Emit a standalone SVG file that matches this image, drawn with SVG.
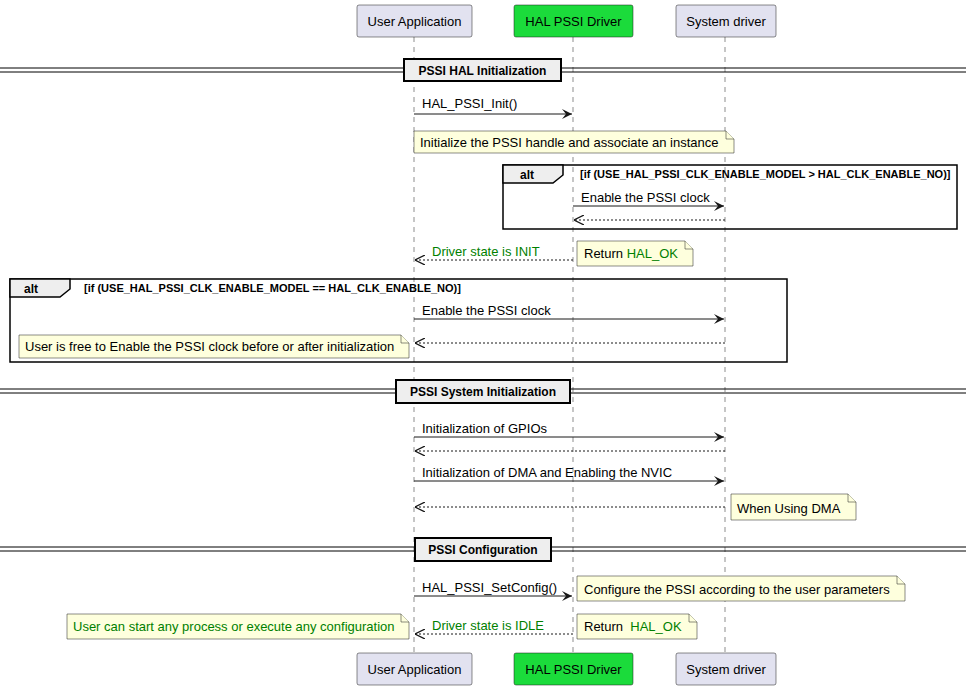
<svg xmlns="http://www.w3.org/2000/svg" width="971" height="688" viewBox="0 0 971 688">
<defs>
<marker id="ah" viewBox="0 0 10 10" refX="10" refY="5" markerWidth="10" markerHeight="10" markerUnits="userSpaceOnUse" orient="auto"><path d="M0,0 L10,5 L0,10 L4,5 Z" fill="#181818"/></marker>
<marker id="ao" viewBox="0 0 10 10" refX="10" refY="5" markerWidth="10" markerHeight="10" markerUnits="userSpaceOnUse" orient="auto"><path d="M0,0 L10,5 L0,10" fill="none" stroke="#181818" stroke-width="1.3"/></marker>
</defs>
<style>
text{font-family:"Liberation Sans",Arial,sans-serif;font-size:13px;fill:#000}
.p{fill:#E2E2F0;stroke:#181818;stroke-width:0.5}
.ph{fill:#1BDB3B;stroke:#181818;stroke-width:0.5}
.life{stroke:#181818;stroke-width:0.5;stroke-dasharray:5,5}
.m{stroke:#181818;stroke-width:1;fill:none;marker-end:url(#ah)}
.r{stroke:#181818;stroke-width:1;fill:none;stroke-dasharray:2,2;marker-end:url(#ao)}
.note{fill:#FEFFDD;stroke:#181818;stroke-width:0.5}
.g{fill:#008000}
.div{stroke:#000;stroke-width:1}
.dbox{fill:#EEEEEE;stroke:#000;stroke-width:2}
.b{font-weight:bold;font-size:12px}
.c{font-weight:bold;font-size:11px}
.frame{fill:none;stroke:#000;stroke-width:1.5}
.tab{fill:#EEEEEE;stroke:#000;stroke-width:1.5}
</style>
<g id="lifelines">
<line class="life" x1="414" y1="37" x2="414" y2="653"/>
<line class="life" x1="573" y1="37" x2="573" y2="653"/>
<line class="life" x1="725" y1="37" x2="725" y2="653"/>
</g>
<g id="user-top"><rect class="p" x="357" y="5" width="115" height="32" rx="2"/><text x="414.5" y="26" text-anchor="middle">User Application</text></g>
<g id="hal-top"><rect class="ph" x="514" y="5" width="119" height="32" rx="2"/><text x="573.5" y="26" text-anchor="middle">HAL PSSI Driver</text></g>
<g id="sys-top"><rect class="p" x="676" y="5" width="100" height="32" rx="2"/><text x="726" y="26" text-anchor="middle">System driver</text></g>
<g id="user-bot"><rect class="p" x="357" y="653" width="115" height="32" rx="2"/><text x="414.5" y="674" text-anchor="middle">User Application</text></g>
<g id="hal-bot"><rect class="ph" x="514" y="653" width="119" height="32" rx="2"/><text x="573.5" y="674" text-anchor="middle">HAL PSSI Driver</text></g>
<g id="sys-bot"><rect class="p" x="676" y="653" width="100" height="32" rx="2"/><text x="726" y="674" text-anchor="middle">System driver</text></g>

<g id="div1"><line class="div" x1="0" y1="68" x2="966" y2="68"/><line class="div" x1="0" y1="72" x2="966" y2="72"/><rect class="dbox" x="404" y="59" width="157" height="22"/><text class="b" x="482.5" y="75" text-anchor="middle">PSSI HAL Initialization</text></g>
<g id="div2"><line class="div" x1="0" y1="389" x2="966" y2="389"/><line class="div" x1="0" y1="393" x2="966" y2="393"/><rect class="dbox" x="396" y="380" width="174" height="23"/><text class="b" x="483" y="396" text-anchor="middle">PSSI System Initialization</text></g>
<g id="div3"><line class="div" x1="0" y1="547" x2="966" y2="547"/><line class="div" x1="0" y1="551" x2="966" y2="551"/><rect class="dbox" x="415" y="538" width="136" height="23"/><text class="b" x="483" y="554" text-anchor="middle">PSSI Configuration</text></g>

<g id="alt1"><rect class="frame" x="503" y="165" width="454" height="64"/><path class="tab" d="M503,165 H563 V175 L553,183 H503 Z"/><text class="b" x="520" y="179">alt</text><text class="c" x="580" y="178">[if (USE_HAL_PSSI_CLK_ENABLE_MODEL &gt; HAL_CLK_ENABLE_NO)]</text></g>
<g id="alt2"><rect class="frame" x="10" y="279" width="777" height="83"/><path class="tab" d="M10,279 H70 V289 L60,297 H10 Z"/><text class="b" x="24" y="293">alt</text><text class="c" x="84" y="292">[if (USE_HAL_PSSI_CLK_ENABLE_MODEL == HAL_CLK_ENABLE_NO)]</text></g>

<g id="connectors">
<line class="m" x1="414" y1="114" x2="572" y2="114"/><text x="422" y="108">HAL_PSSI_Init()</text>
<line class="m" x1="573" y1="206" x2="724" y2="206"/><text x="581" y="202">Enable the PSSI clock</text>
<line class="r" x1="725" y1="220" x2="574" y2="220"/>
<line class="r" x1="573" y1="260" x2="415" y2="260"/><text class="g" x="432" y="256">Driver state is INIT</text>
<line class="m" x1="414" y1="319" x2="724" y2="319"/><text x="422" y="315">Enable the PSSI clock</text>
<line class="r" x1="725" y1="343" x2="415" y2="343"/>
<line class="m" x1="414" y1="437" x2="724" y2="437"/><text x="422" y="433">Initialization of GPIOs</text>
<line class="r" x1="725" y1="451" x2="415" y2="451"/>
<line class="m" x1="414" y1="481" x2="724" y2="481"/><text x="422" y="477">Initialization of DMA and Enabling the NVIC</text>
<line class="r" x1="725" y1="507" x2="415" y2="507"/>
<line class="m" x1="414" y1="596" x2="572" y2="596"/><text x="422" y="592">HAL_PSSI_SetConfig()</text>
<line class="r" x1="573" y1="634" x2="415" y2="634"/><text class="g" x="432" y="630">Driver state is IDLE</text>
</g>

<g id="note1"><path class="note" d="M414,131 H726 L734,139 V153 H414 Z"/><path class="note" d="M726,131 V139 H734"/><text x="420" y="147">Initialize the PSSI handle and associate an instance</text></g>
<g id="note2"><path class="note" d="M577,241 H685 L693,249 V266 H577 Z"/><path class="note" d="M685,241 V249 H693"/><text x="584" y="258">Return <tspan class="g">HAL_OK</tspan></text></g>
<g id="note3"><path class="note" d="M19,335 H401 L409,343 V358 H19 Z"/><path class="note" d="M401,335 V343 H409"/><text x="25" y="351">User is free to Enable the PSSI clock before or after initialization</text></g>
<g id="note4"><path class="note" d="M731,494 H848 L856,502 V520 H731 Z"/><path class="note" d="M848,494 V502 H856"/><text x="737" y="513">When Using DMA</text></g>
<g id="note5"><path class="note" d="M577,576 H897 L905,584 V601 H577 Z"/><path class="note" d="M897,576 V584 H905"/><text x="584" y="594">Configure the PSSI according to the user parameters</text></g>
<g id="note6"><path class="note" d="M577,614 H689 L697,622 V639 H577 Z"/><path class="note" d="M689,614 V622 H697"/><text x="584" y="631" xml:space="preserve">Return  <tspan class="g">HAL_OK</tspan></text></g>
<g id="note7"><path class="note" d="M67,614 H401 L409,622 V639 H67 Z"/><path class="note" d="M401,614 V622 H409"/><text class="g" x="73" y="631">User can start any process or execute any configuration</text></g>
</svg>
